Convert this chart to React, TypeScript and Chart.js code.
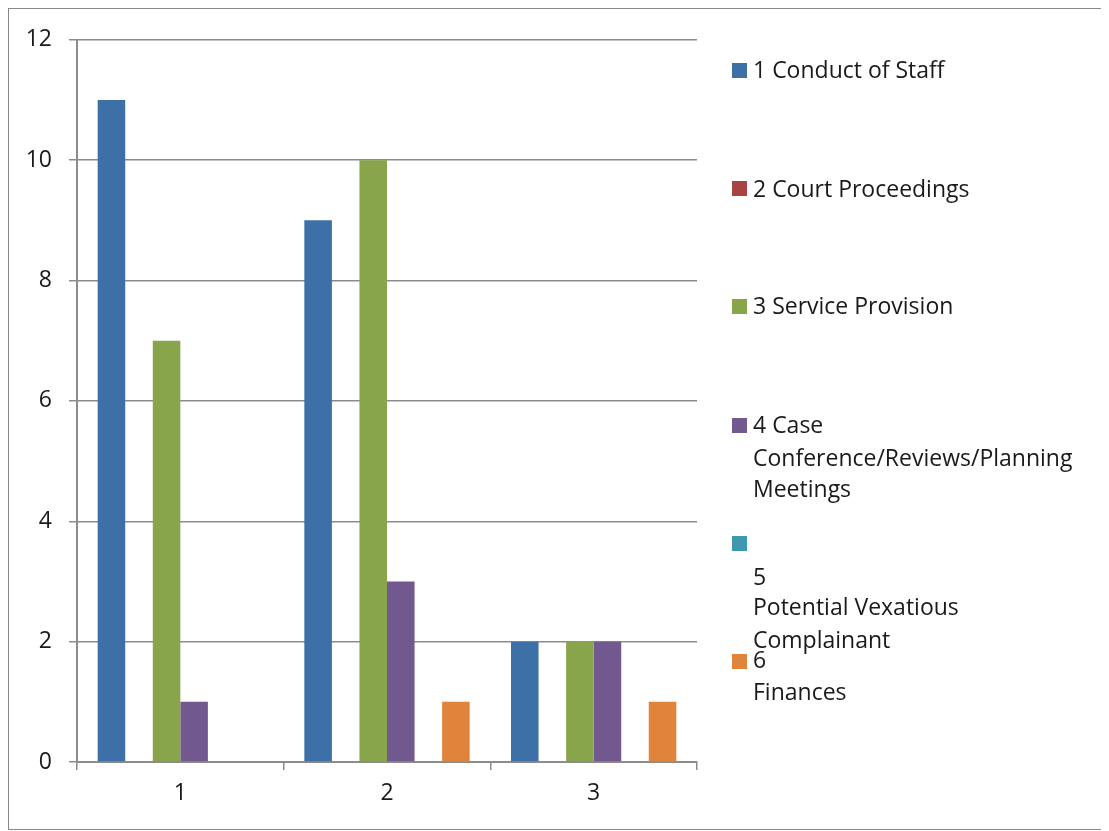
import React, { useEffect, useRef } from "react";
import { Chart, registerables } from "chart.js";

Chart.register(...registerables);

const categories = ["1", "2", "3"];
const seriesNames = [
  "1 Conduct of Staff",
  "2 Court Proceedings",
  "3 Service Provision",
  "4 Case Conference/Reviews/Planning Meetings",
  "5 Potential Vexatious Complainant",
  "6 Finances",
];
const conductOfStaff = [11, 9, 2];
const courtProceedings = [0, 0, 0];
const serviceProvision = [7, 10, 2];
const caseConference = [1, 3, 2];
const vexatiousComplainant = [0, 0, 0];
const finances = [0, 1, 1];
const seriesValues = [
  conductOfStaff,
  courtProceedings,
  serviceProvision,
  caseConference,
  vexatiousComplainant,
  finances,
];
const legendLines = [
  ["1 Conduct of Staff"],
  ["2 Court Proceedings"],
  ["3 Service Provision"],
  ["4 Case", "Conference/Reviews/Planning", "Meetings"],
  ["", "5", "Potential Vexatious", "Complainant"],
  ["6", "Finances"],
];
const colors = ["#3C70A6", "#A74443", "#89A54B", "#71588F", "#4098B0", "#DF843A"];

// legend layout (canvas px)
const legendLayout = [
  { sq: 54, base: [69] },
  { sq: 172, base: [188] },
  { sq: 290, base: [305] },
  { sq: 409, base: [424, 457, 488] },
  { sq: 527, base: [0, 576, 606, 639] },
  { sq: 645, base: [659, 691] },
];
const FONT = '"Open Sans", "Noto Sans", sans-serif';
const FONT_SIZE = 23;
const TEXT_COLOR = "#1a1a1a";

const legendPlugin = {
  id: "customLegend",
  afterDraw(chart: any) {
    const ctx = chart.ctx;
    ctx.save();
    ctx.font = `${FONT_SIZE}px ${FONT}`;
    ctx.textBaseline = "alphabetic";
    ctx.textAlign = "left";
    legendLayout.forEach((lay, i) => {
      ctx.fillStyle = colors[i];
      ctx.fillRect(723, lay.sq, 15, 15);
      ctx.fillStyle = TEXT_COLOR;
      legendLines[i].forEach((ln, j) => {
        if (ln) ctx.fillText(ln, 744, lay.base[j]);
      });
    });
    ctx.restore();
  },
};

export default function App() {
  const ref = useRef<HTMLCanvasElement>(null);
  useEffect(() => {
    if (!ref.current) return;
    const chart = new Chart(ref.current, {
      type: "bar",
      data: {
        labels: categories,
        datasets: seriesNames.map((name, i) => ({
          label: name,
          data: seriesValues[i],
          backgroundColor: colors[i],
          borderWidth: 0,
          barPercentage: 1,
          categoryPercentage: 0.8,
        })),
      },
      options: {
        animation: false,
        responsive: false,
        layout: { padding: { left: 0, top: 28, right: 409, bottom: 0 } },
        plugins: { legend: { display: false }, tooltip: { enabled: false } },
        scales: {
          x: {
            grid: {
              display: true,
              drawOnChartArea: false,
              drawTicks: true,
              tickLength: 8,
              color: "#8c8c8c",
              lineWidth: 1.5,
            },
            border: { display: true, color: "#8c8c8c", width: 2 },
            ticks: {
              font: { family: FONT, size: FONT_SIZE },
              color: TEXT_COLOR,
              padding: 10,
            },
            afterFit(scale: any) {
              scale.height = 67;
            },
          },
          y: {
            min: 0,
            max: 12,
            ticks: {
              stepSize: 2,
              font: { family: FONT, size: FONT_SIZE },
              color: TEXT_COLOR,
              padding: 17,
            },
            grid: {
              color: "#8c8c8c",
              lineWidth: 1.5,
              tickLength: 8,
            },
            border: { display: true, color: "#8c8c8c", width: 2 },
            afterFit(scale: any) {
              scale.width = 68;
            },
          },
        },
      },
      plugins: [legendPlugin],
    });
    return () => chart.destroy();
  }, []);
  return (
    <div
      style={{
        width: 1097,
        height: 820,
        border: "1px solid #888",
        background: "#fff",
        position: "relative",
      }}
    >
      <canvas ref={ref} width={1097} height={820} style={{ display: "block" }} />
    </div>
  );
}
